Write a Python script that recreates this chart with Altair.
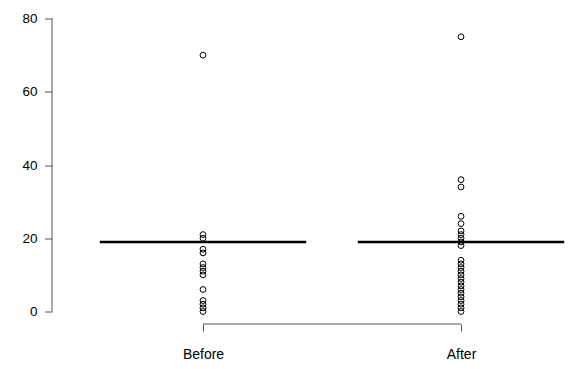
import altair as alt
import pandas as pd

categories = ["Before", "After"]
before_values = [70, 21, 20, 17, 16, 13, 12, 11, 10, 6, 3, 2, 1, 0]
after_values = [75, 36, 34, 26, 24, 22, 21, 20, 19, 18, 14, 13, 12, 11, 10,
                9, 8, 7, 6, 5, 4, 3, 2, 1, 0]
center_values = [19, 19]
y_ticks = [0, 20, 40, 60, 80]

W, H = 521, 305.5
XDOM = [0.4147, 2.434]
YDOM = [-3.41, 80]
FONT = "Liberation Sans"

rows = []
for i, (cat, vals) in enumerate(zip(categories, [before_values, after_values])):
    for v in vals:
        rows.append({"group": cat, "idx": i + 1, "value": v})
pts = pd.DataFrame(rows)

cent = pd.DataFrame({"group": categories,
                     "idx": [1, 2],
                     "center": center_values})
cent["lo"] = cent["idx"] - 0.4
cent["hi"] = cent["idx"] + 0.4

xscale = alt.Scale(domain=XDOM, nice=False, zero=False)
yscale = alt.Scale(domain=YDOM, nice=False, zero=False)

label_expr = "datum.value == 1 ? '" + categories[0] + "' : '" + categories[1] + "'"

points = alt.Chart(pts).mark_point(
    shape="circle", filled=False, color="black", size=34, strokeWidth=1, opacity=1
).encode(
    x=alt.X("idx:Q", scale=xscale, title=None,
            axis=alt.Axis(values=[1, 2], labelExpr=label_expr, domain=False,
                          grid=False, tickSize=7, tickColor="#555555",
                          labelFontSize=14, labelColor="black", labelFont=FONT,
                          labelPadding=16, labelFlush=False)),
    y=alt.Y("value:Q", scale=yscale, title=None,
            axis=alt.Axis(values=y_ticks, domain=False, grid=False,
                          tickSize=7.5, tickColor="#555555",
                          labelFontSize=13.5, labelColor="black", labelFont=FONT,
                          labelPadding=7.5)),
)

centers = alt.Chart(cent).mark_rule(color="black", strokeWidth=2.5).encode(
    x=alt.X("lo:Q", scale=xscale),
    x2="hi:Q",
    y=alt.Y("center:Q", scale=yscale),
)

yline = alt.Chart(pd.DataFrame({"a": [y_ticks[0]], "b": [y_ticks[-1]]})).mark_rule(
    color="#555555", strokeWidth=1
).encode(
    x=alt.value(0),
    y=alt.Y("a:Q", scale=yscale),
    y2="b:Q",
)

xline = alt.Chart(pd.DataFrame({"a": [1], "b": [2]})).mark_rule(
    color="#555555", strokeWidth=1
).encode(
    x=alt.X("a:Q", scale=xscale),
    x2="b:Q",
    y=alt.value(H),
)

chart = alt.layer(yline, xline, centers, points).properties(
    width=W, height=H,
    autosize=alt.AutoSizeParams(type="none"),
    padding={"left": 44, "top": 10.5, "right": 0, "bottom": 40},
).configure(font=FONT, view=alt.ViewConfig(stroke=None))

chart.save("out.html", embed_options={"renderer": "svg", "actions": False})
